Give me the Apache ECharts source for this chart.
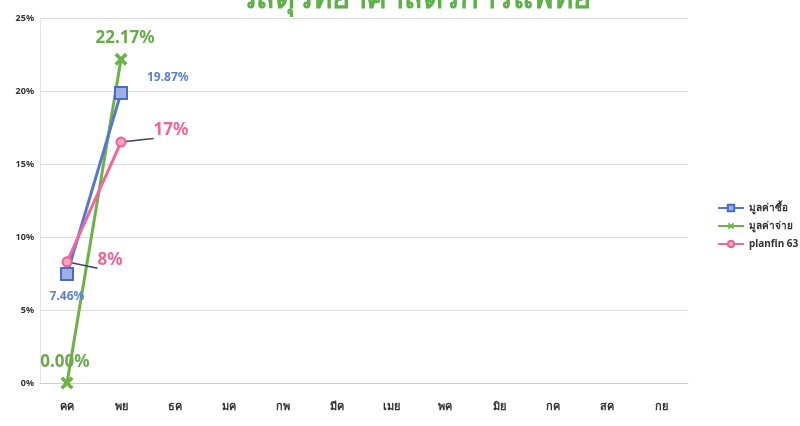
<!DOCTYPE html>
<html><head><meta charset="utf-8">
<script src="https://cdn.jsdelivr.net/npm/echarts@6/dist/echarts.min.js"></script>
<style>html,body{margin:0;padding:0;background:#fff}#c{width:800px;height:426px}</style>
</head><body><div id="c"></div>
<script>
const titleText = 'วัสดุวิทยาศาสตร์การแพทย์';
const categories = ['คค','พย','ธค','มค','กพ','มีค','เมย','พค','มิย','กค','สค','กย'];
const seriesNames = ['มูลค่าซื้อ','มูลค่าจ่าย','planfin 63'];
const buyValues = [7.46, 19.87];
const payValues = [0.00, 22.17];
const planValues = [8.3, 16.5];
const yTicks = [0,5,10,15,20,25];

const chart = echarts.init(document.getElementById('c'));
const xPath = 'path://M0,2 L2,0 L5,3 L8,0 L10,2 L7,5 L10,8 L8,10 L5,7 L2,10 L0,8 L3,5 Z';
const font = 'Noto Sans, Arial, sans-serif';

function mk(vals, cfgs){ return vals.map((v,i)=>({value:v, label:cfgs[i]})); }

chart.setOption({
  animation:false,
  title:{text:titleText,left:410,textAlign:'center',top:-21,textStyle:{color:'#5fb04a',fontSize:31,fontWeight:'bold',fontFamily:font}},
  grid:{left:40,right:112,top:18,bottom:43},
  legend:{orient:'vertical',left:712,top:198,itemGap:7,itemWidth:26,itemHeight:8,itemGap:8,
    textStyle:{fontSize:10,fontWeight:'bold',color:'#333',fontFamily:font},data:seriesNames},
  xAxis:{type:'category',data:categories,boundaryGap:true,
    axisLine:{lineStyle:{color:'#d0d0dc'}},axisTick:{show:false},
    axisLabel:{margin:18,fontSize:11,fontWeight:'bold',color:'#333',fontFamily:font}},
  yAxis:{type:'value',min:yTicks[0],max:yTicks[yTicks.length-1],interval:5,
    axisLine:{show:true,lineStyle:{color:'#e2e2ec'}},axisTick:{show:false},
    splitLine:{lineStyle:{color:'#dcdcec'}},
    axisLabel:{formatter:'{value}%',fontSize:9,fontWeight:'bold',color:'#333',margin:6,fontFamily:font}},
  series:[
    {name:seriesNames[0],type:'line',z:3,
      data:mk(buyValues,[{position:'bottom',distance:9},{position:'right',offset:[14,-15]}]),
      symbol:'rect',symbolSize:12,
      lineStyle:{width:3,color:'#5577cc'},
      itemStyle:{color:'#9bb0e6',borderColor:'#4a6cc4',borderWidth:2},
      label:{show:true,formatter:p=>p.value.toFixed(2)+'%',color:'#5b7fd2',fontSize:12,fontWeight:'bold',fontFamily:font}},
    {name:seriesNames[1],type:'line',z:2,
      data:mk(payValues,[{position:'top',offset:[-2,-2],distance:4},{position:'top',offset:[4,0],distance:6}]),
      symbol:xPath,symbolSize:13,
      lineStyle:{width:3,color:'#6db248'},
      itemStyle:{color:'#6db248'},
      label:{show:true,formatter:p=>p.value.toFixed(2)+'%',color:'#6aaa4a',fontSize:17,fontWeight:'bold',fontFamily:font}},
    {name:seriesNames[2],type:'line',z:4,
      data:mk(planValues,[{position:'right',offset:[20,-2]},{position:'right',offset:[22,-12]}]),
      symbol:'circle',symbolSize:9,
      lineStyle:{width:3,color:'#f0689c'},
      itemStyle:{color:'#f6a4c2',borderColor:'#ee5f95',borderWidth:2},
      labelLine:{show:true,lineStyle:{color:'#445',width:1.5}},
      label:{show:true,formatter:p=>Math.round(p.value)+'%',color:'#f0669a',fontSize:17,fontWeight:'bold',fontFamily:font}}
  ]
});
</script></body></html>
